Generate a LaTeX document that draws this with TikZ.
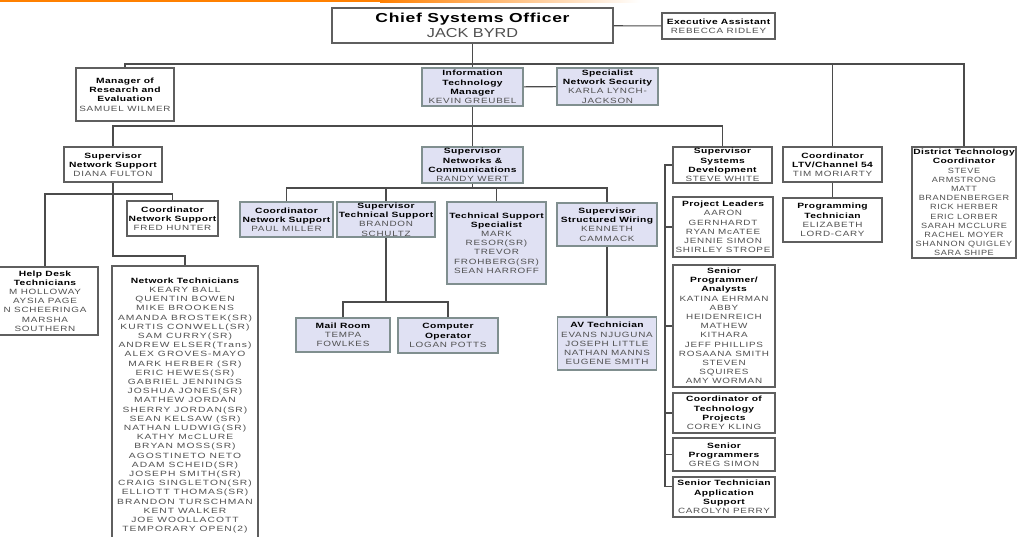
\documentclass[tikz,border=0pt]{standalone}
\usepackage{fontspec}
\setmainfont{Liberation Sans}
\usepackage{tikz}
\usetikzlibrary{positioning}
\newfontfamily\nmfont[FakeStretch=1.3,LetterSpace=10]{Liberation Sans}
\newfontfamily\ttlfont[FakeStretch=1.35,LetterSpace=5]{Liberation Sans}
\newfontfamily\topfont[FakeStretch=1.25]{Liberation Sans}
\newfontfamily\widefont[FakeStretch=1.35,LetterSpace=14]{Liberation Sans}
\newfontfamily\dtcfont[FakeStretch=1.2,LetterSpace=8]{Liberation Sans}
\definecolor{lav}{RGB}{224,225,243}
\definecolor{lavedge}{RGB}{128,143,143}
\definecolor{boxgray}{RGB}{95,95,95}
\definecolor{linegray}{RGB}{75,75,75}
\definecolor{namegray}{RGB}{80,80,80}
\newcommand{\hd}[1]{{\ttlfont\bfseries\color{black}#1}}

\begin{document}
\begin{tikzpicture}[x=1pt,y=-1pt,
  wbox/.style={rectangle, draw=boxgray, line width=1.1pt, fill=white,
               align=center, inner sep=1pt, text=namegray,
               font=\nmfont\fontsize{7.6}{9.2}\selectfont},
  lbox/.style={wbox, draw=lavedge, line width=1.8pt, fill=lav},
  conn/.style={draw=linegray, line width=1.1pt}
]
  \fill[white] (0,0) rectangle (1018,537);
  \useasboundingbox (0,0) rectangle (1018,537);
  % orange band on top
  \fill[orange] (0,0) rectangle (380,2.5);
  \shade[left color=orange, right color=white] (380,0) rectangle (640,2.5);

  % top level
  \node[wbox, line width=1.4pt, minimum width=281, minimum height=35,
        font=\topfont\fontsize{13}{15}\selectfont] (cso) at (472.5,25.5)
    {\hd{Chief Systems Officer}\\JACK BYRD};
  \node[wbox, minimum width=113, minimum height=26] (exa) at (718.5,26)
    {\hd{Executive Assistant}\\REBECCA RIDLEY};
  \node[wbox, minimum width=98, minimum height=53] (mre) at (125,94.5)
    {\hd{Manager of}\\\hd{Research and}\\\hd{Evaluation}\\SAMUEL WILMER};
  \node[lbox, minimum width=101, minimum height=38] (itm) at (472.5,87)
    {\hd{Information}\\\hd{Technology}\\\hd{Manager}\\KEVIN GREUBEL};
  \node[lbox, minimum width=101, minimum height=37] (sns) at (607.5,86.5)
    {\hd{Specialist}\\\hd{Network Security}\\KARLA LYNCH-\\JACKSON};
  \node[wbox, minimum width=99, minimum height=35] (ltv) at (832.5,164.5)
    {\hd{Coordinator}\\\hd{LTV/Channel 54}\\TIM MORIARTY};
  \node[wbox, minimum width=104, minimum height=111, inner ysep=0.5pt,
        font=\dtcfont\fontsize{7.6}{9.2}\selectfont] (dtc) at (964,202.5)
    {\hd{District Technology}\\\hd{Coordinator}\\STEVE\\ARMSTRONG\\MATT\\
     BRANDENBERGER\\RICK HERBER\\ERIC LORBER\\SARAH MCCLURE\\RACHEL MOYER\\
     SHANNON QUIGLEY\\SARA SHIPE};
  \node[wbox, minimum width=99, minimum height=44] (prt) at (832.5,220)
    {\hd{Programming}\\\hd{Technician}\\ELIZABETH\\LORD-CARY};

  % second level
  \node[wbox, minimum width=98, minimum height=35] (sup) at (113,164.5)
    {\hd{Supervisor}\\\hd{Network Support}\\DIANA FULTON};
  \node[lbox, minimum width=101, minimum height=36] (snc) at (472.5,165)
    {\hd{Supervisor}\\\hd{Networks \&}\\\hd{Communications}\\RANDY WERT};
  \node[wbox, minimum width=99, minimum height=36] (ssd) at (722.5,165)
    {\hd{Supervisor}\\\hd{Systems}\\\hd{Development}\\STEVE WHITE};

  % network support
  \node[wbox, minimum width=91, minimum height=35] (fred) at (172.5,218.5)
    {\hd{Coordinator}\\\hd{Network Support}\\FRED HUNTER};
  \node[wbox, minimum width=106, minimum height=68] (hdt) at (45,301)
    {\hd{Help Desk}\\\hd{Technicians}\\M HOLLOWAY\\AYSIA PAGE\\N SCHEERINGA\\
     MARSHA\\SOUTHERN};
  \node[wbox, minimum width=146, minimum height=279,
        font=\widefont\fontsize{7.6}{9.2}\selectfont] (ntc) at (185,405.5)
    {\hd{Network Technicians}\\KEARY BALL\\QUENTIN BOWEN\\MIKE BROOKENS\\
     AMANDA BROSTEK(SR)\\KURTIS CONWELL(SR)\\SAM CURRY(SR)\\
     ANDREW ELSER(Trans)\\ALEX GROVES-MAYO\\MARK HERBER (SR)\\ERIC HEWES(SR)\\
     GABRIEL JENNINGS\\JOSHUA JONES(SR)\\MATHEW JORDAN\\SHERRY JORDAN(SR)\\
     SEAN KELSAW (SR)\\NATHAN LUDWIG(SR)\\KATHY McCLURE\\BRYAN MOSS(SR)\\
     AGOSTINETO NETO\\ADAM SCHEID(SR)\\JOSEPH SMITH(SR)\\
     CRAIG SINGLETON(SR)\\ELLIOTT THOMAS(SR)\\BRANDON TURSCHMAN\\
     KENT WALKER\\JOE WOOLLACOTT\\TEMPORARY OPEN(2)};

  % networks & communications
  \node[lbox, minimum width=93, minimum height=35] (cns) at (286.5,219.5)
    {\hd{Coordinator}\\\hd{Network Support}\\PAUL MILLER};
  \node[lbox, minimum width=98, minimum height=35] (sts) at (386,219.5)
    {\hd{Supervisor}\\\hd{Technical Support}\\BRANDON\\SCHULTZ};
  \node[lbox, minimum width=99, minimum height=82] (tss) at (496.5,243)
    {\hd{Technical Support}\\\hd{Specialist}\\MARK\\RESOR(SR)\\TREVOR\\
     FROHBERG(SR)\\SEAN HARROFF};
  \node[lbox, minimum width=100, minimum height=43] (ssw) at (607,224.5)
    {\hd{Supervisor}\\\hd{Structured Wiring}\\KENNETH\\CAMMACK};
  \node[lbox, minimum width=94, minimum height=34] (mail) at (343,335)
    {\hd{Mail Room}\\TEMPA\\FOWLKES};
  \node[lbox, minimum width=100, minimum height=35] (cop) at (448,335.5)
    {\hd{Computer}\\\hd{Operator}\\LOGAN POTTS};
  \node[lbox, minimum width=99, minimum height=53] (avt) at (607,343.5)
    {\hd{AV Technician}\\EVANS NJUGUNA\\JOSEPH LITTLE\\NATHAN MANNS\\
     EUGENE SMITH};

  % systems development
  \node[wbox, minimum width=100, minimum height=60] (pld) at (723,227)
    {\hd{Project Leaders}\\AARON\\GERNHARDT\\RYAN McATEE\\JENNIE SIMON\\
     SHIRLEY STROPE};
  \node[wbox, minimum width=102, minimum height=122, inner ysep=0.5pt] (spa)
    at (724,326)
    {\hd{Senior}\\\hd{Programmer/}\\\hd{Analysts}\\KATINA EHRMAN\\ABBY\\
     HEIDENREICH\\MATHEW\\KITHARA\\JEFF PHILLIPS\\ROSAANA SMITH\\STEVEN\\
     SQUIRES\\AMY WORMAN};
  \node[wbox, minimum width=102, minimum height=40] (ctp) at (724,413)
    {\hd{Coordinator of}\\\hd{Technology}\\\hd{Projects}\\COREY KLING};
  \node[wbox, minimum width=102, minimum height=33] (spr) at (724,454.5)
    {\hd{Senior}\\\hd{Programmers}\\GREG SIMON};
  \node[wbox, minimum width=102, minimum height=40] (sta) at (724,497)
    {\hd{Senior Technician}\\\hd{Application}\\\hd{Support}\\CAROLYN PERRY};

  % connectors
  \coordinate (top) at (472.5,64);
  \coordinate (mid) at (472.5,126);
  \coordinate (net) at (472.5,188);
  \coordinate (tech) at (386,302);
  \coordinate (dev) at (665,165);
  \coordinate (nsb) at (113,194);
  \coordinate (nsc) at (113,256);

  \draw[conn] (cso) -- (exa);
  \draw[conn] (cso) -- (itm);
  \draw[conn] (mre.north) |- (top) -| (dtc.north);
  \draw[conn] (top) -| (ltv.north);
  \draw[conn] (ltv) -- (prt);
  \draw[conn] (itm) -- (sns);
  \draw[conn] (itm) -- (snc);
  \draw[conn] (sup.north) |- (mid) -| (ssd.north);
  \draw[conn] (snc) -- (net);
  \draw[conn] (cns.north) |- (net) -| (ssw.north);
  \draw[conn] (sts.north) |- (net);
  \draw[conn] (tss.north) |- (net);
  \draw[conn] (sts) -- (tech);
  \draw[conn] (mail.north) |- (tech) -| (cop.north);
  \draw[conn] (ssw) -- (avt);
  \draw[conn] (ssd.west) -- (dev) |- ([yshift=-10pt]sta.north west);
  \foreach \n in {pld,spa,ctp,spr}
    \draw[conn] (dev |- \n.west) -- (\n.west);
  \draw[conn] (sup) -- (nsb);
  \draw[conn] (hdt.north) |- (nsb) -| (fred.north);
  \draw[conn] (nsb) -- (nsc) -| (ntc.north);
\end{tikzpicture}
\end{document}
